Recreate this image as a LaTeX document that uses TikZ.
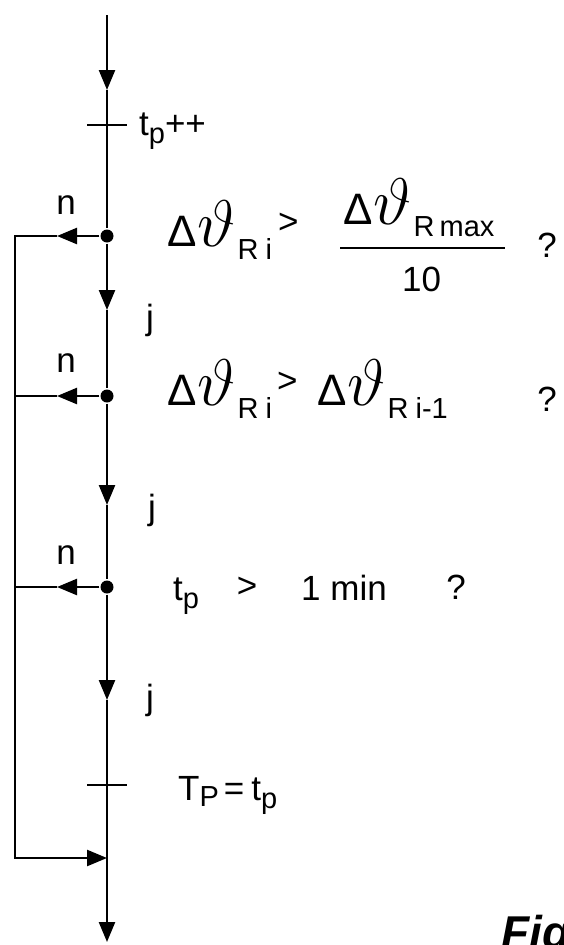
\RequirePackage{fix-cm}
\documentclass[tikz,border=0pt]{standalone}
\usepackage{fontspec}
\setmainfont{Liberation Sans}
\usetikzlibrary{arrows.meta}

\newcommand{\dth}{{\fontsize{44}{44}\selectfont Δ}\kern1pt{\fontsize{66}{66}\selectfont$\vartheta$}\kern2pt}
\newcommand{\lowsub}[2][13pt]{\raisebox{-#1}{\fontsize{29}{29}\selectfont #2}}

\begin{document}
\begin{tikzpicture}[x=1pt, y=-1pt, line width=2.4pt,
    flow/.style={-{Triangle[length=20pt,width=16pt]}},
    junc/.style={circle, fill, inner sep=0pt, minimum size=13pt},
    lbl/.style={inner sep=0pt, font=\fontsize{35}{35}\selectfont},
    cond/.style={inner sep=0pt, anchor=base west, font=\fontsize{35}{35}\selectfont}]
\useasboundingbox (0,0) rectangle (564,945);

% main line
\coordinate (top) at (107,15);
\coordinate (a0) at (107,90);
\coordinate (k1) at (107,125);
\node[junc] (d1) at (107,236) {};
\coordinate (a1) at (107,310);
\node[junc] (d2) at (107,396) {};
\coordinate (a2) at (107,505);
\node[junc] (d3) at (107,587) {};
\coordinate (a3) at (107,700);
\coordinate (k2) at (107,785);
\coordinate (m) at (107,858);
\coordinate (bot) at (107,942);

% no-branches
\coordinate (n1a) at (57,236);
\coordinate (n2a) at (57,396);
\coordinate (n3a) at (57,587);
\coordinate (l1) at (15,236);
\coordinate (l2) at (15,396);
\coordinate (l3) at (15,587);
\coordinate (lb) at (15,858);

\draw[flow] (top) -- (a0);
\draw (a0) -- (d1);
\draw[flow] (d1) -- (a1);
\draw (a1) -- (d2);
\draw[flow] (d2) -- (a2);
\draw (a2) -- (d3);
\draw[flow] (d3) -- (a3);
\draw (a3) -- (m);
\draw[flow] (m) -- (bot);

\draw ([xshift=-20pt]k1) -- ([xshift=20pt]k1);
\draw ([xshift=-20pt]k2) -- ([xshift=20pt]k2);

\draw[flow] (d1) -- (n1a);
\draw[flow] (d2) -- (n2a);
\draw[flow] (d3) -- (n3a);
\draw (n2a) -- (l2);
\draw (n3a) -- (l3);
\draw[flow] (n1a) -- (l1) -- (lb) -- (m);

% labels
\node[lbl] (n1) at (66,205) {n};
\node[lbl] (n2) at (66,363) {n};
\node[lbl] (n3) at (66,555) {n};
\node[lbl] (j1) at (150,320) {j};
\node[lbl] (j2) at (152,510) {j};
\node[lbl] (j3) at (150,700) {j};

\node[cond] (inc) at (138,135) {t\lowsub[8pt]{p}++};

\node[cond] (c1) at (166,246) {\dth\lowsub{R\hspace{7pt}i}\hspace{6pt}\raisebox{13pt}{>}};
\node[cond] (num1) at (342,224) {\dth\lowsub[12pt]{R\hspace{5pt}max}};
\draw[line width=2pt] (340,248) -- (505,248);
\node[cond] (ten) at (401,291) {10};
\node[lbl] (q1) at (547,245) {?};

\node[cond] (c2) at (166,405) {\dth\lowsub{R\hspace{7pt}i}\hspace{5pt}\raisebox{13pt}{>}};
\node[cond] (c2b) at (316,405) {\dth\lowsub{R\hspace{7pt}i-1}};
\node[lbl] (q2) at (547,399) {?};

\node[cond] (c3) at (172,600) {t\lowsub[8pt]{p}};
\node[lbl] (gt) at (247,587) {>};
\node[cond] (min) at (300,600) {1 min};
\node[lbl] (q3) at (456,587) {?};

\node[cond] (fin) at (177,800) {T\lowsub[6pt]{P}\hspace{5pt}=\hspace{7pt}t\lowsub[8pt]{p}};

\begin{scope}
\clip (480,900) rectangle (564,945);
\node[inner sep=0pt, anchor=north west, font=\fontsize{46}{46}\selectfont\bfseries\itshape] (fig) at (500,914) {Fig};
\end{scope}
\end{tikzpicture}
\end{document}
